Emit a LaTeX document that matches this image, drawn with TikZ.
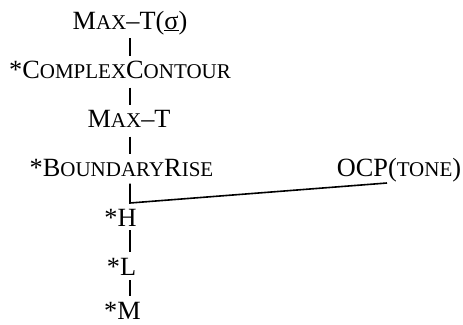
\documentclass[tikz,border=0pt]{standalone}
\usepackage{fontspec}
\setmainfont{Liberation Serif}
\usetikzlibrary{calc}
\newcommand\smc[1]{{\fontsize{21}{25}\selectfont #1}}
\begin{document}
\begin{tikzpicture}[x=1pt,y=-1pt,
  txt/.style={inner sep=0pt, anchor=base, font=\fontsize{26.3}{31}\selectfont},
  link/.style={line width=1.6pt}]
\useasboundingbox (0,0) rectangle (463,324);
\coordinate (spine) at (130,0);
\node[txt] (maxts) at (130,29) {M\smc{AX}–T(\underline{σ})};
\node[txt] (cc) at (120,78.5) {*C\smc{OMPLEX}C\smc{ONTOUR}};
\node[txt] (maxt) at (129,127.5) {M\smc{AX}–T};
\node[txt] (br) at (121.5,176.5) {*B\smc{OUNDARY}R\smc{ISE}};
\node[txt] (ocp) at (399,176.5) {OCP(\smc{TONE})};
\node[txt] (h) at (120.5,226) {*H};
\node[txt] (l) at (121.5,275) {*L};
\node[txt] (m) at (122.5,319.5) {*M};
\draw[link] ($(maxts.base -| spine)+(0,9)$) -- ($(cc.base -| spine)+(0,-23)$);
\draw[link] ($(cc.base -| spine)+(0,9)$) -- ($(maxt.base -| spine)+(0,-23)$);
\draw[link] ($(maxt.base -| spine)+(0,9)$) -- ($(br.base -| spine)+(0,-23)$);
\draw[link] ($(br.base -| spine)+(0,7)$) -- ($(h.base -| spine)+(0,-23)$) coordinate (corner) -- ($(ocp.base)+(-12,6.5)$);
\draw[link] ($(h.base -| spine)+(0,4)$) -- ($(l.base -| spine)+(0,-23)$);
\draw[link] ($(l.base -| spine)+(0,5)$) -- ($(m.base -| spine)+(0,-24)$);
\end{tikzpicture}
\end{document}
